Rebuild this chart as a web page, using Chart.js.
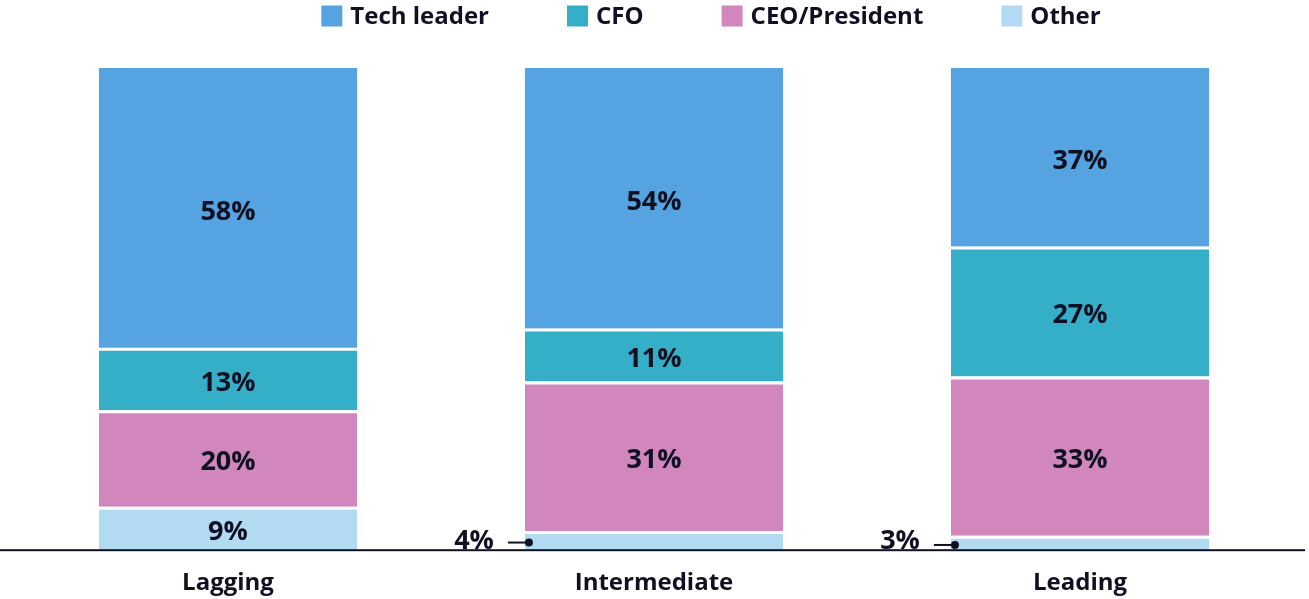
<!DOCTYPE html>
<html>
<head>
<meta charset="utf-8">
<script src="https://cdn.jsdelivr.net/npm/chart.js@4"></script>
<style>
html,body{margin:0;padding:0;background:#fff;}
#wrap{width:1309px;height:599px;position:relative;}
</style>
</head>
<body>
<div id="wrap"><canvas id="c" width="1309" height="599"></canvas></div>
<script>
const categories = ["Lagging", "Intermediate", "Leading"];
const seriesNames = ["Tech leader", "CFO", "CEO/President", "Other"];
const techLeader = [58, 54, 37];
const cfo = [13, 11, 27];
const ceoPresident = [20, 31, 33];
const other = [9, 4, 3];
const colors = ["#55A4E1", "#35AEC8", "#D187BB", "#B3DAF3"];
const textColor = "#0F1123";
const FONT = "'Open Sans', Lato, sans-serif";

const valuesBySeries = [techLeader, cfo, ceoPresident, other];
// stack bottom-up: Other, CEO, CFO, Tech leader
const order = [3, 2, 1, 0];
const datasets = order.map(i => ({
  label: seriesNames[i],
  data: valuesBySeries[i],
  backgroundColor: colors[i],
  borderColor: "#ffffff",
  borderWidth: i === 0 ? 0 : {top: 3, left: 0, right: 0, bottom: 0},
  borderSkipped: false,
  barPercentage: 1,
  categoryPercentage: 0.606
}));

const labelsPlugin = {
  id: "segLabels",
  afterDatasetsDraw(chart) {
    const ctx = chart.ctx;
    ctx.save();
    chart.data.datasets.forEach((ds, di) => {
      const meta = chart.getDatasetMeta(di);
      meta.data.forEach((bar, j) => {
        const v = ds.data[j];
        const top = bar.y, bottom = bar.base;
        const cy = (top + bottom) / 2;
        const left = bar.x - bar.width / 2;
        ctx.fillStyle = textColor;
        ctx.font = "700 27px " + FONT;
        if (v >= 5) {
          ctx.textBaseline = "middle";
          ctx.textAlign = "center";
          ctx.fillText(v + "%", bar.x, cy + 4);
        } else {
          ctx.textBaseline = "alphabetic";
          ctx.textAlign = "right";
          ctx.fillText(v + "%", left - 31, bottom - 1);
          const ly = cy + 2;
          ctx.strokeStyle = textColor;
          ctx.lineWidth = 2;
          ctx.beginPath();
          ctx.moveTo(left - 17, ly);
          ctx.lineTo(left + 3, ly);
          ctx.stroke();
          ctx.beginPath();
          ctx.arc(left + 4, ly, 4, 0, Math.PI * 2);
          ctx.fill();
        }
      });
    });
    // baseline
    const yb = chart.scales.y.getPixelForValue(0);
    ctx.fillStyle = textColor;
    ctx.fillRect(0, yb - 1, 1305, 2);
    ctx.restore();
  }
};

const legendPlugin = {
  id: "customLegend",
  afterDraw(chart) {
    const ctx = chart.ctx;
    ctx.save();
    ctx.font = "700 24px " + FONT;
    ctx.textBaseline = "middle";
    ctx.textAlign = "left";
    const box = 21, gapBoxText = 8, gapItems = 78;
    const widths = seriesNames.map(n => box + gapBoxText + ctx.measureText(n).width);
    const total = widths.reduce((a, b) => a + b, 0) + gapItems * (seriesNames.length - 1);
    let x = 711 - total / 2;
    const cy = 16;
    seriesNames.forEach((n, i) => {
      ctx.fillStyle = colors[i];
      ctx.fillRect(x, cy - box / 2, box, box);
      ctx.fillStyle = textColor;
      ctx.fillText(n, x + box + gapBoxText, cy + 1);
      x += widths[i] + gapItems;
    });
    ctx.restore();
  }
};

new Chart(document.getElementById("c"), {
  type: "bar",
  data: { labels: categories, datasets },
  options: {
    responsive: false,
    animation: false,
    layout: { padding: { top: 68, left: 15, right: 16, bottom: -18 } },
    plugins: { legend: { display: false }, tooltip: { enabled: false } },
    scales: {
      x: {
        stacked: true,
        grid: { display: false, drawTicks: false },
        border: { display: false },
        ticks: { color: textColor, font: { family: FONT, size: 24, weight: "700" }, padding: 19 }
      },
      y: {
        stacked: true, min: 0, max: 100, display: false
      }
    }
  },
  plugins: [labelsPlugin, legendPlugin]
});
</script>
</body>
</html>
